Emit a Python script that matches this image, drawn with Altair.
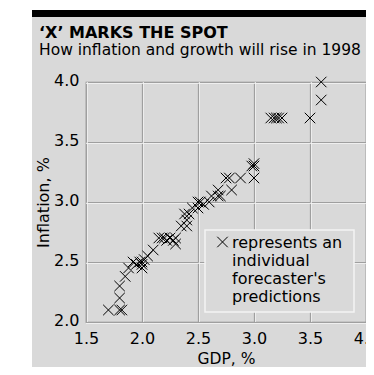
import altair as alt
import pandas as pd

gdp = [1.70, 1.80, 1.82, 1.80, 1.80, 1.85, 1.88, 1.92, 1.95, 1.98,
       2.00, 2.00, 2.00, 2.02, 2.05, 2.10, 2.15, 2.18, 2.20, 2.22,
       2.25, 2.28, 2.30, 2.30, 2.35, 2.40, 2.40, 2.38, 2.42, 2.45,
       2.50, 2.50, 2.52, 2.55, 2.60, 2.62, 2.68, 2.70, 2.68, 2.80,
       2.75, 2.78, 2.88, 3.00, 2.98, 3.00, 3.00, 3.15, 3.18, 3.20,
       3.22, 3.25, 3.50, 3.60, 3.60]
inflation = [2.10, 2.10, 2.10, 2.20, 2.30, 2.38, 2.45, 2.50, 2.48, 2.50,
             2.45, 2.48, 2.50, 2.52, 2.55, 2.60, 2.70, 2.70, 2.70, 2.68,
             2.70, 2.68, 2.70, 2.65, 2.80, 2.80, 2.85, 2.90, 2.90, 2.95,
             2.95, 3.00, 3.00, 2.98, 3.00, 3.05, 3.05, 3.05, 3.10, 3.10,
             3.20, 3.20, 3.20, 3.20, 3.30, 3.30, 3.32, 3.70, 3.70, 3.70,
             3.70, 3.70, 3.70, 3.85, 4.00]
x_ticks = [1.5, 2.0, 2.5, 3.0, 3.5, 4.0]
y_ticks = [2.0, 2.5, 3.0, 3.5, 4.0]
title_text = "\u2018X\u2019 MARKS THE SPOT"
subtitle_text = "How inflation and growth will rise in 1998"
legend_lines = ["represents an", "individual", "forecaster's", "predictions"]

BG = "#d9d9d9"
FONT = "DejaVu Sans"
XSHAPE = "M-1,-1L1,1M-1,1L1,-1"

df = pd.DataFrame({"GDP": gdp, "Inflation": inflation})
one = alt.Data(values=[{}])

xscale = alt.Scale(domain=[1.5, 4.0], nice=False, zero=False)
yscale = alt.Scale(domain=[2.0, 4.0], nice=False, zero=False)

points = alt.Chart(df).mark_point(
    shape=XSHAPE, size=110, filled=False, color="black", strokeWidth=1, opacity=1
).encode(
    x=alt.X("GDP:Q", scale=xscale,
            axis=alt.Axis(values=x_ticks, format=".1f", title="GDP, %",
                          labelPadding=8, titleY=29, titleFontSize=15.5,
                          labelFlush=False)),
    y=alt.Y("Inflation:Q", scale=yscale,
            axis=alt.Axis(values=y_ticks, format=".1f", title="Inflation, %",
                          labelPadding=7, titlePadding=2, labelOffset=-2,
                          titleFontSize=16, labelFlush=False)),
)

hi_x = alt.Chart(pd.DataFrame({"t": x_ticks[:-1]})).mark_rule(
    color="#f4f4f4", strokeWidth=1, xOffset=1.3
).encode(x=alt.X("t:Q", scale=xscale))
hi_y = alt.Chart(pd.DataFrame({"t": y_ticks})).mark_rule(
    color="#f4f4f4", strokeWidth=1, yOffset=1.3
).encode(y=alt.Y("t:Q", scale=yscale))

white_left = alt.Chart(one).mark_rect(color="white").encode(
    x=alt.value(-78), x2=alt.value(-54), y=alt.value(-74), y2=alt.value(300))
white_top = alt.Chart(one).mark_rect(color="white").encode(
    x=alt.value(-78), x2=alt.value(300), y=alt.value(-74), y2=alt.value(-72))
black_bar = alt.Chart(one).mark_rect(color="black").encode(
    x=alt.value(-54), x2=alt.value(300), y=alt.value(-72), y2=alt.value(-65))

title = alt.Chart(one).mark_text(
    text=title_text, font=FONT, fontSize=16, fontWeight="bold", align="left",
    baseline="alphabetic", color="black"
).encode(x=alt.value(-47), y=alt.value(-44))
subtitle = alt.Chart(one).mark_text(
    text=subtitle_text, font=FONT, fontSize=15.5, align="left",
    baseline="alphabetic", color="black"
).encode(x=alt.value(-47), y=alt.value(-27.5))

legend_box = alt.Chart(one).mark_rect(fill=BG, stroke="#f4f4f4", strokeWidth=1.5).encode(
    x=alt.value(119), x2=alt.value(268), y=alt.value(148), y2=alt.value(230))
legend_x = alt.Chart(one).mark_point(
    shape=XSHAPE, size=110, filled=False, color="black", strokeWidth=1, opacity=1
).encode(x=alt.value(136.5), y=alt.value(160))
legend_text = alt.Chart(one).mark_text(
    text=legend_lines, font=FONT, fontSize=16, lineHeight=18, align="left",
    baseline="alphabetic", color="black"
).encode(x=alt.value(146), y=alt.value(166))

chart = alt.layer(
    hi_x, hi_y, points, white_left, white_top, black_bar, title, subtitle,
    legend_box, legend_x, legend_text
).properties(
    width=280, height=240,
    autosize=alt.AutoSizeParams(type="none"),
    padding={"left": 78, "top": 74, "right": 0, "bottom": 45},
    background=BG,
).configure_view(
    stroke="#8a8a8a", strokeWidth=1.2
).configure_axis(
    domain=False, ticks=False, grid=True, gridColor="#8a8a8a", gridWidth=1.2,
    labelFont=FONT, labelFontSize=16, labelColor="black",
    titleFont=FONT, titleFontWeight="normal", titleColor="black",
)

chart.save("out.html", embed_options={"renderer": "svg", "actions": False})
